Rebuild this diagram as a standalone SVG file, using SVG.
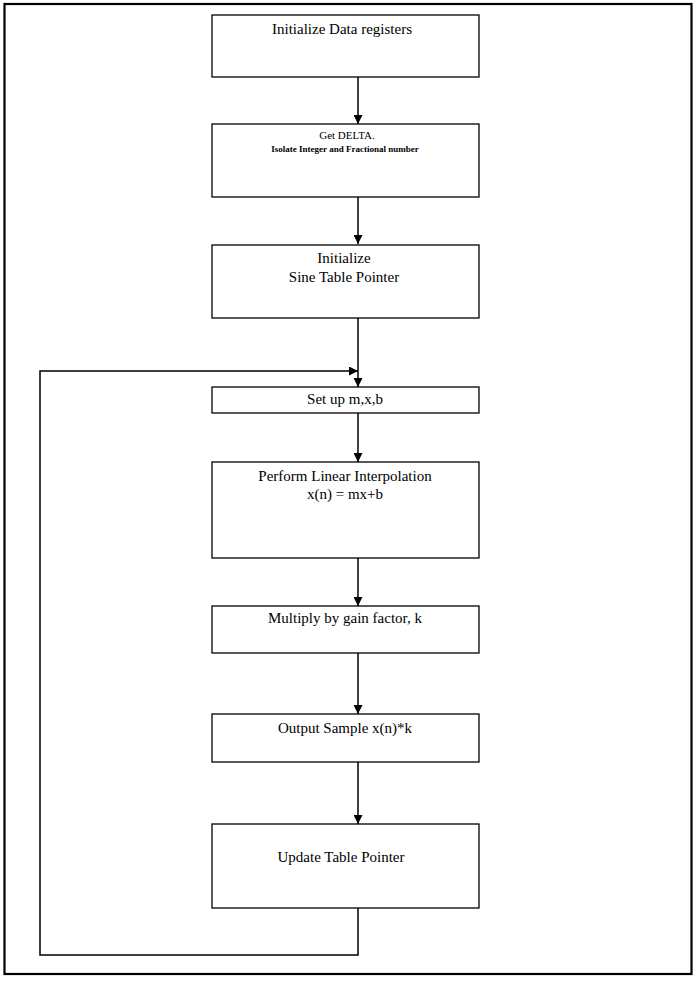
<svg xmlns="http://www.w3.org/2000/svg" width="695" height="984" viewBox="0 0 695 984">
<style>
.box{fill:#fff;stroke:#000;stroke-width:1.3}
.frame{fill:none;stroke:#000;stroke-width:2.2}
.con{fill:none;stroke:#000;stroke-width:1.5}
.t{font-family:"Liberation Serif","Times New Roman",serif;font-size:15px;fill:#000;text-anchor:middle}
.s{font-size:11px}
.b{font-size:9px;font-weight:bold}
</style>
<defs>
<marker id="ah" viewBox="0 0 10 10" refX="10" refY="5" markerUnits="userSpaceOnUse" markerWidth="9" markerHeight="9" orient="auto">
<path d="M0,0 L10,5 L0,10 z" fill="#000"/>
</marker>
</defs>
<rect width="695" height="984" fill="#fff"/>
<rect class="frame" x="4.5" y="4" width="687" height="970"/>
<g id="connectors">
<path class="con" d="M358,77 V124" marker-end="url(#ah)"/>
<path class="con" d="M358,197 V244" marker-end="url(#ah)"/>
<path class="con" d="M358,318 V387" marker-end="url(#ah)"/>
<path class="con" d="M358,413 V462" marker-end="url(#ah)"/>
<path class="con" d="M358,558 V606" marker-end="url(#ah)"/>
<path class="con" d="M358,653 V714" marker-end="url(#ah)"/>
<path class="con" d="M358,762 V824" marker-end="url(#ah)"/>
<path class="con" d="M358,908 V955 H40 V371 H358" marker-end="url(#ah)"/>
</g>
<g id="n1"><rect class="box" x="212" y="15" width="267" height="62"/><text class="t" x="342" y="34">Initialize Data registers</text></g>
<g id="n2"><rect class="box" x="212" y="124" width="267" height="73"/><text class="t s" x="347" y="139">Get DELTA.</text><text class="t b" x="345" y="152">Isolate Integer and Fractional number</text></g>
<g id="n3"><rect class="box" x="212" y="245" width="267" height="73"/><text class="t" x="344" y="263">Initialize</text><text class="t" x="344" y="282">Sine Table Pointer</text></g>
<g id="n4"><rect class="box" x="212" y="387" width="267" height="26"/><text class="t" x="345" y="404">Set up m,x,b</text></g>
<g id="n5"><rect class="box" x="212" y="462" width="267" height="96"/><text class="t" x="345" y="481">Perform Linear Interpolation</text><text class="t" x="345" y="499">x(n) = mx+b</text></g>
<g id="n6"><rect class="box" x="212" y="606" width="267" height="47"/><text class="t" x="345" y="623">Multiply by gain factor, k</text></g>
<g id="n7"><rect class="box" x="212" y="714" width="267" height="48"/><text class="t" x="345" y="733">Output Sample x(n)*k</text></g>
<g id="n8"><rect class="box" x="212" y="824" width="267" height="84"/><text class="t" x="341" y="862">Update Table Pointer</text></g>
</svg>
